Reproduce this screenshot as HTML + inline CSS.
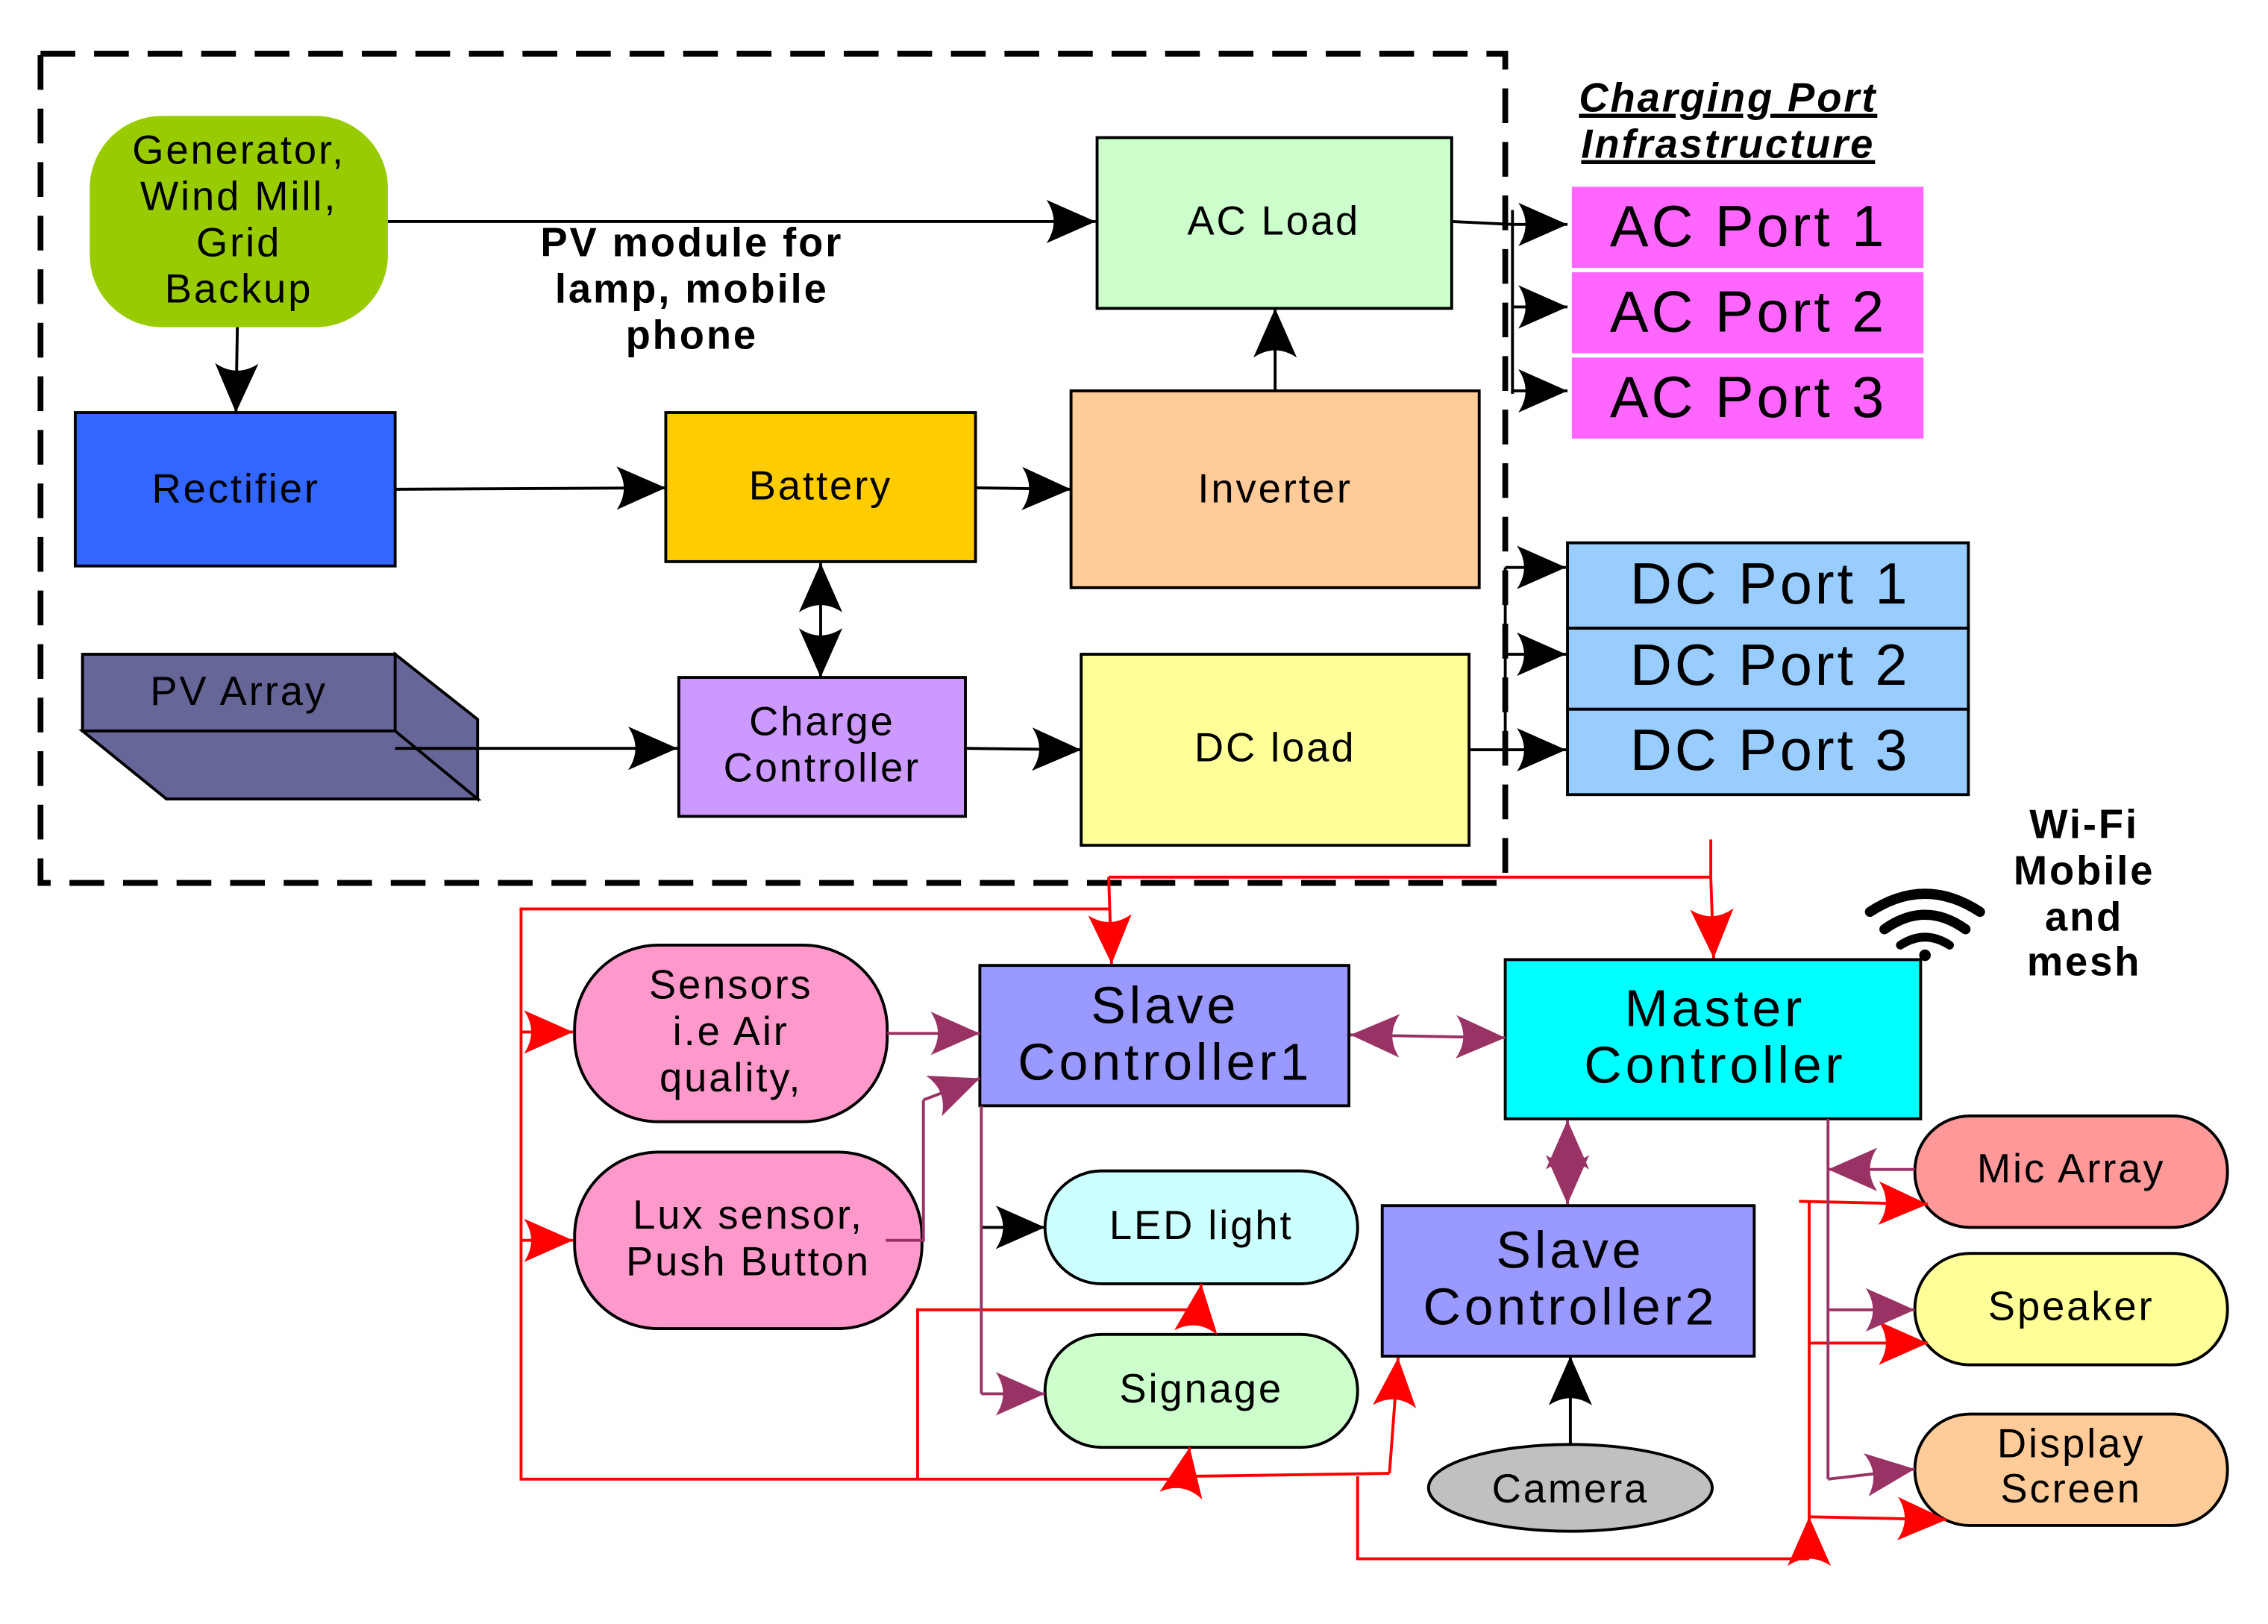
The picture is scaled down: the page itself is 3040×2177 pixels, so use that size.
<!DOCTYPE html>
<html><head><meta charset="utf-8"><style>html,body{margin:0;padding:0;background:#fff}svg{display:block}text{font-family:"Liberation Sans",sans-serif;text-anchor:middle}</style></head>
<body>
<svg width="3040" height="2177" viewBox="0 0 1567 1122" xmlns="http://www.w3.org/2000/svg">
<defs>
<marker id="ak" markerUnits="userSpaceOnUse" markerWidth="36" markerHeight="30" refX="34" refY="15" orient="auto"><path d="M0,0 L34,15 L0,30 Q10,15 0,0Z" fill="#000"/></marker>
<marker id="ar" markerUnits="userSpaceOnUse" markerWidth="36" markerHeight="30" refX="34" refY="15" orient="auto"><path d="M0,0 L34,15 L0,30 Q10,15 0,0Z" fill="#f00"/></marker>
<marker id="ap" markerUnits="userSpaceOnUse" markerWidth="36" markerHeight="30" refX="34" refY="15" orient="auto"><path d="M0,0 L34,15 L0,30 Q10,15 0,0Z" fill="#993366"/></marker>
<marker id="aks" markerUnits="userSpaceOnUse" markerWidth="36" markerHeight="30" refX="34" refY="15" orient="auto-start-reverse"><path d="M0,0 L34,15 L0,30 Q10,15 0,0Z" fill="#000"/></marker>
<marker id="aps" markerUnits="userSpaceOnUse" markerWidth="36" markerHeight="30" refX="34" refY="15" orient="auto-start-reverse"><path d="M0,0 L34,15 L0,30 Q10,15 0,0Z" fill="#993366"/></marker>
</defs>
<rect width="1567" height="1122" fill="#fff"/>
<path d="M28,37 H1040 V610 H28 Z" fill="none" stroke="#000" stroke-width="4" stroke-dasharray="24 13"/>

<g stroke="#000" stroke-width="2">
<rect x="62" y="80" width="206" height="146" rx="50" fill="#99CC00" stroke="none"/>
<rect x="758" y="95" width="245" height="118" fill="#CCFFCC"/>
<rect x="52" y="285" width="221" height="106" fill="#3366FF"/>
<rect x="460" y="285" width="214" height="103" fill="#FFCC00"/>
<rect x="740" y="270" width="282" height="136" fill="#FFCC99"/>
<rect x="469" y="468" width="198" height="96" fill="#CC99FF"/>
<rect x="747" y="452" width="268" height="132" fill="#FFFF99"/>
<path d="M57,452 H273 V505 H57Z M273,452 L330,497 V552 L273,505Z M57,505 H273 L330,552 H115Z" fill="#666699"/>
<rect x="1083" y="375" width="277" height="59" fill="#99CCFF"/>
<rect x="1083" y="434" width="277" height="56" fill="#99CCFF"/>
<rect x="1083" y="490" width="277" height="59" fill="#99CCFF"/>
<rect x="677" y="667" width="255" height="97" fill="#9999FF"/>
<rect x="1040" y="663" width="287" height="110" fill="#00FFFF"/>
<rect x="955" y="833" width="257" height="104" fill="#9999FF"/>
<ellipse cx="1085" cy="1028" rx="98" ry="30" fill="#C0C0C0"/>
<rect x="397" y="653" width="216" height="122" rx="58" fill="#FF99CC"/>
<rect x="397" y="796" width="240" height="122" rx="58" fill="#FF99CC"/>
<rect x="722" y="809" width="216" height="78" rx="39" fill="#CCFFFF"/>
<rect x="722" y="922" width="216" height="78" rx="39" fill="#CCFFCC"/>
<rect x="1323" y="771" width="216" height="77" rx="38" fill="#FF9999"/>
<rect x="1323" y="866" width="216" height="77" rx="38" fill="#FFFF99"/>
<rect x="1323" y="977" width="216" height="77" rx="38" fill="#FFCC99"/>
</g>
<g stroke="#fff" stroke-width="2" fill="#FF66FF">
<rect x="1085" y="128" width="245" height="58"/><rect x="1085" y="187" width="245" height="58"/><rect x="1085" y="246" width="245" height="58"/>
</g>

<g stroke="#000" stroke-width="2" fill="none">
<line x1="268" y1="153" x2="757" y2="153" marker-end="url(#ak)"/>
<line x1="164" y1="226" x2="163" y2="285" marker-end="url(#ak)"/>
<line x1="273" y1="338" x2="460" y2="337" marker-end="url(#ak)"/>
<line x1="674" y1="337" x2="740" y2="338" marker-end="url(#ak)"/>
<line x1="881" y1="270" x2="881" y2="213" marker-end="url(#ak)"/>
<line x1="567" y1="389" x2="567" y2="468" marker-start="url(#aks)" marker-end="url(#ak)"/>
<line x1="273" y1="517" x2="468" y2="517" marker-end="url(#ak)"/>
<line x1="667" y1="517" x2="747" y2="518" marker-end="url(#ak)"/>
<polyline points="1003,153 1045,155"/>
<line x1="1045" y1="145" x2="1045" y2="272"/>
<line x1="1045" y1="155" x2="1083" y2="155" marker-end="url(#ak)"/>
<line x1="1045" y1="212" x2="1083" y2="212" marker-end="url(#ak)"/>
<line x1="1045" y1="270" x2="1083" y2="270" marker-end="url(#ak)"/>
<line x1="1015" y1="518" x2="1040" y2="518"/>
<line x1="1040" y1="392" x2="1040" y2="518"/>
<line x1="1040" y1="392" x2="1082" y2="392" marker-end="url(#ak)"/>
<line x1="1040" y1="452" x2="1082" y2="452" marker-end="url(#ak)"/>
<line x1="1040" y1="518" x2="1082" y2="518" marker-end="url(#ak)"/>
<line x1="678" y1="848" x2="722" y2="848" marker-end="url(#ak)"/>
<line x1="1085" y1="998" x2="1085" y2="937" marker-end="url(#ak)"/>
</g>

<g stroke="#f00" stroke-width="2" fill="none">
<line x1="1182" y1="580" x2="1182" y2="606"/>
<line x1="766" y1="606" x2="1182" y2="606"/>
<line x1="1182" y1="606" x2="1184" y2="662" marker-end="url(#ar)"/>
<line x1="766" y1="606" x2="768" y2="666" marker-end="url(#ar)"/>
<polyline points="766,628 360,628 360,1022 820,1022"/>
<line x1="360" y1="713" x2="396" y2="713" marker-end="url(#ar)"/>
<line x1="360" y1="857" x2="396" y2="857" marker-end="url(#ar)"/>
<polyline points="634,1022 634,905 830,905"/>
<line x1="828" y1="905" x2="830" y2="887" marker-end="url(#ar)"/>
<line x1="818" y1="1022" x2="822" y2="1000" marker-end="url(#ar)"/>
<polyline points="822,1020 960,1018"/>
<line x1="960" y1="1018" x2="966" y2="938" marker-end="url(#ar)"/>
<polyline points="938,1020 938,1077 1250,1077"/>
<line x1="1250" y1="1077" x2="1250" y2="1048" marker-end="url(#ar)"/>
<line x1="1250" y1="1077" x2="1250" y2="830"/>
<line x1="1243" y1="830" x2="1332" y2="832" marker-end="url(#ar)"/>
<line x1="1250" y1="928" x2="1332" y2="928" marker-end="url(#ar)"/>
<line x1="1250" y1="1048" x2="1345" y2="1050" marker-end="url(#ar)"/>
</g>

<g stroke="#993366" stroke-width="2" fill="none">
<line x1="613" y1="714" x2="677" y2="714" marker-end="url(#ap)"/>
<polyline points="612,857 638,857 638,760"/>
<line x1="638" y1="760" x2="677" y2="745" marker-end="url(#ap)"/>
<polyline points="678,764 678,963"/>
<line x1="678" y1="963" x2="722" y2="963" marker-end="url(#ap)"/>
<line x1="933" y1="715" x2="1040" y2="717" marker-start="url(#aps)" marker-end="url(#ap)"/>
<line x1="1083" y1="774" x2="1083" y2="832" marker-start="url(#aps)" marker-end="url(#ap)"/>
<polyline points="1263,773 1263,1022"/>
<line x1="1323" y1="808" x2="1263" y2="808" marker-end="url(#ap)"/>
<line x1="1263" y1="905" x2="1323" y2="905" marker-end="url(#ap)"/>
<line x1="1263" y1="1022" x2="1323" y2="1015" marker-end="url(#ap)"/>
</g>

<g fill="none" stroke="#000" stroke-linecap="round">
<path d="M1292,630 Q1330,605 1368,630" stroke-width="7"/>
<path d="M1302,642 Q1330,622 1358,642" stroke-width="7"/>
<path d="M1313,653 Q1330,642 1347,653" stroke-width="6"/>
</g>
<circle cx="1330" cy="660" r="4" fill="#000"/>

<g font-size="28" letter-spacing="1.5" fill="#000">
<text x="165" y="113">Generator,</text><text x="165" y="145">Wind Mill,</text><text x="165" y="177">Grid</text><text x="165" y="209">Backup</text>
<g font-weight="bold"><text x="478" y="177">PV module for</text><text x="478" y="209">lamp, mobile</text><text x="478" y="241">phone</text></g>
<text x="880" y="162">AC Load</text>
<text x="163" y="347">Rectifier</text>
<text x="567" y="345">Battery</text>
<text x="881" y="347">Inverter</text>
<text x="165" y="487">PV Array</text>
<text x="568" y="508">Charge</text><text x="568" y="540">Controller</text>
<text x="881" y="526">DC load</text>
<g font-weight="bold" font-style="italic" text-decoration="underline"><text x="1194" y="77">Charging Port</text><text x="1194" y="109">Infrastructure</text></g>
<g font-weight="bold"><text x="1440" y="579">Wi-Fi</text><text x="1440" y="611">Mobile</text><text x="1440" y="643">and</text><text x="1440" y="674">mesh</text></g>
<text x="505" y="690">Sensors</text><text x="505" y="722">i.e Air</text><text x="505" y="754">quality,</text>
<text x="517" y="849">Lux sensor,</text><text x="517" y="881">Push Button</text>
<text x="830" y="856">LED light</text>
<text x="830" y="969">Signage</text>
<text x="1085" y="1038">Camera</text>
<text x="1431" y="817">Mic Array</text>
<text x="1431" y="912">Speaker</text>
<text x="1431" y="1007">Display</text><text x="1431" y="1038">Screen</text>
</g>
<g font-size="40" letter-spacing="2" fill="#000">
<text x="1208" y="170">AC Port 1</text><text x="1208" y="229">AC Port 2</text><text x="1208" y="288">AC Port 3</text>
<text x="1223" y="417">DC Port 1</text><text x="1223" y="473">DC Port 2</text><text x="1223" y="532">DC Port 3</text>
</g>
<g font-size="36" letter-spacing="2.5" fill="#000">
<text x="805" y="707">Slave</text><text x="805" y="746">Controller1</text>
<text x="1185" y="709">Master</text><text x="1185" y="748">Controller</text>
<text x="1085" y="876">Slave</text><text x="1085" y="915">Controller2</text>
</g>
</svg>
</body></html>
